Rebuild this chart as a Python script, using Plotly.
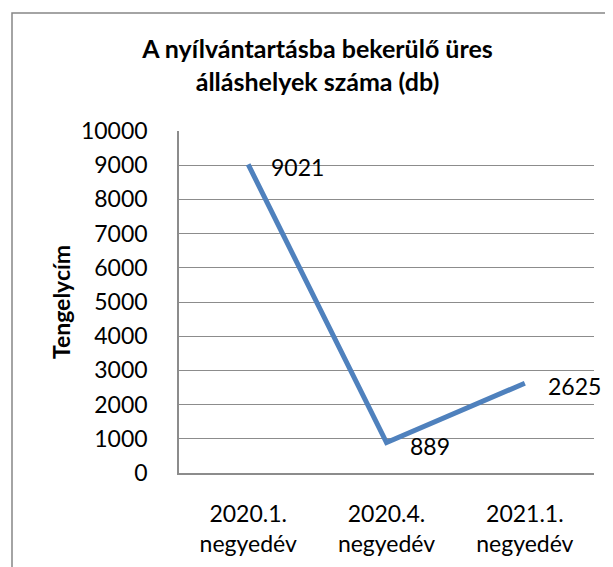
import plotly.graph_objects as go

categories = ["2020.1.<br>negyedév", "2020.4.<br>negyedév", "2021.1.<br>negyedév"]
values = [9021, 889, 2625]
labels = [str(v) for v in values]
title_text = "A nyílvántartásba bekerülő üres<br>álláshelyek száma (db)"
y_title = "Tengelycím"

FONT = "Lato"
GRID = "#8c8c8c"
FS = 23
OFF = 8  # page body margin

L, R, T, B = 179 - OFF, 594 - OFF, 131 - OFF, 473 - OFF
PW, PH = R - L, B - T

fig = go.Figure()
fig.add_trace(go.Scatter(
    x=categories, y=values, mode="lines",
    line=dict(color="#4F81BD", width=5),
    hoverinfo="skip", showlegend=False,
))
for c, v, t in zip(categories, values, labels):
    fig.add_annotation(x=c, y=v, text=t, showarrow=False, xanchor="left",
                       yanchor="middle", xshift=21, yshift=-3,
                       font=dict(family=FONT, size=FS, color="#000"))

fig.update_layout(
    width=613, height=567,
    margin=dict(l=L, r=613 - R, t=T, b=567 - B),
    paper_bgcolor="white", plot_bgcolor="white",
    font=dict(family=FONT, size=FS, color="#000"),
    title=dict(text=title_text, xref="container", yref="container",
               x=(317.5 - OFF) / 613, xanchor="center", y=1 - 50 / 567, yanchor="top",
               font=dict(family=FONT, size=25, color="#000", weight="bold")),
    xaxis=dict(range=[-0.5, 2.5], showgrid=False, showline=True, linecolor=GRID,
               linewidth=1.5, ticks="", ticklabelstandoff=20, automargin=False,
               tickfont=dict(family=FONT, size=FS), fixedrange=True),
    yaxis=dict(range=[0, 10000], dtick=1000, tickformat="d", showgrid=True,
               gridcolor=GRID, gridwidth=1.3, showline=True, linecolor=GRID,
               linewidth=1.5, zeroline=False, ticks="", ticklabelstandoff=25,
               automargin=False, tickfont=dict(family=FONT, size=FS),
               title=dict(text=y_title, standoff=4,
                          font=dict(family=FONT, size=FS, weight="bold")),
               fixedrange=True),
    shapes=[dict(type="rect", xref="paper", yref="paper",
                 x0=(12 - OFF - L) / PW, x1=1.3, y0=-0.6, y1=(B - (13 - OFF)) / PH,
                 line=dict(color="#868686", width=1.5), layer="below")],
)
fig.write_html("out.html")
